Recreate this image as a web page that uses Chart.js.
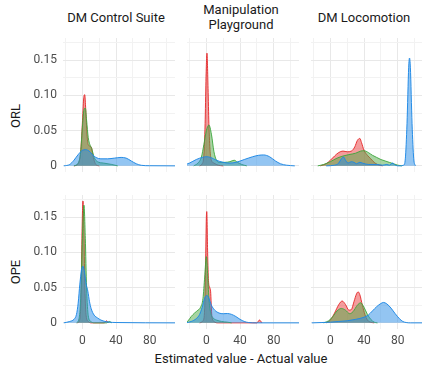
<!DOCTYPE html>
<html>
<head>
<meta charset="utf-8">
<script src="https://cdn.jsdelivr.net/npm/chart.js@4.4.1/dist/chart.umd.min.js"></script>
<style>
  body { margin: 0; background: #fff; font-family: Roboto, sans-serif; }
  #wrap { position: relative; width: 422px; height: 366px; overflow: hidden; }
  canvas { position: absolute; }
  .lbl { position: absolute; color: #1a1a1a; font-size: 13px; line-height: 15px; text-align: center; white-space: nowrap; transform: translate(-50%, -50%); }
  .rot { transform: translate(-50%, -50%) rotate(-90deg); }
</style>
</head>
<body>
<div id="wrap">
  <div class="lbl" style="left:116px;top:17px">DM Control Suite</div>
  <div class="lbl" style="left:241px;top:17px">Manipulation<br>Playground</div>
  <div class="lbl" style="left:364px;top:17px">DM Locomotion</div>
  <div class="lbl rot" style="left:15px;top:116px">ORL</div>
  <div class="lbl rot" style="left:15px;top:272px">OPE</div>
  <div class="lbl" style="left:241px;top:358px">Estimated value - Actual value</div>
</div>
<script>
// shared axes
const xGrid = [-20, 0, 20, 40, 60, 80, 100];
const xLabeled = [0, 40, 80];
const yGrid = [0, 0.025, 0.05, 0.075, 0.1, 0.125, 0.15, 0.175];
const yTickLabels = ['0', '0.05', '0.10', '0.15'];
const seriesNames = ['red', 'green', 'blue'];

// density curves, [x, density]
// ORL / DM Control Suite
const orlDmcRed = [[-10,0],[-5,0.003],[-2,0.02],[0,0.06],[1.5,0.095],[2.8,0.101],[4,0.08],[5.5,0.045],[7,0.03],[9,0.028],[11,0.025],[13,0.012],[16,0.002],[20,0]];
const orlDmcGreen = [[-10,0],[-5,0.004],[-2,0.02],[0,0.055],[2,0.08],[3.5,0.082],[5,0.065],[7,0.04],[9,0.03],[11,0.025],[14,0.012],[18,0.006],[25,0.004],[35,0.002],[42,0]];
const orlDmcBlue = [[-22,0],[-15,0.002],[-10,0.008],[-5,0.016],[0,0.022],[4,0.023],[8,0.021],[12,0.016],[16,0.012],[22,0.01],[30,0.01],[38,0.011],[46,0.012],[52,0.011],[58,0.007],[64,0.003],[70,0.0008],[80,0.0002],[110,0]];
// ORL / Manipulation Playground
const orlMpRed = [[-8,0],[-5,0.003],[-3,0.015],[-1.5,0.06],[-0.5,0.12],[0.7,0.16],[2,0.11],[3,0.06],[4.5,0.02],[6,0.008],[9,0.004],[14,0.001],[20,0]];
const orlMpGreen = [[-15,0],[-10,0.004],[-6,0.012],[-3,0.03],[0,0.05],[3,0.058],[6,0.045],[9,0.02],[12,0.008],[16,0.005],[22,0.005],[28,0.006],[33,0.008],[37,0.005],[42,0.002],[48,0]];
const orlMpBlue = [[-25,0.002],[-20,0.004],[-12,0.009],[-5,0.012],[0,0.013],[5,0.012],[12,0.008],[20,0.005],[28,0.004],[35,0.005],[45,0.009],[55,0.013],[62,0.015],[68,0.0155],[75,0.013],[82,0.007],[88,0.003],[95,0.001],[105,0]];
// ORL / DM Locomotion
const orlDmlRed = [[-12,0],[-5,0.003],[0,0.008],[5,0.014],[10,0.019],[15,0.021],[20,0.02],[25,0.021],[29,0.027],[32,0.036],[35,0.039],[37,0.033],[40,0.022],[44,0.015],[48,0.01],[52,0.005],[56,0.002],[62,0]];
const orlDmlGreen = [[-15,0],[-8,0.002],[0,0.006],[8,0.011],[15,0.014],[22,0.016],[30,0.018],[36,0.021],[40,0.0215],[45,0.019],[50,0.015],[55,0.012],[60,0.009],[65,0.007],[70,0.005],[75,0.003],[80,0.001],[85,0]];
const orlDmlBlue = [[-5,0],[5,0.001],[10,0.004],[13,0.01],[15.8,0.0125],[18,0.008],[21,0.004],[25,0.006],[28,0.005],[31,0.003],[35,0.005],[38,0.004],[45,0.002],[55,0.002],[62,0.001],[67,0.002],[70,0.001],[74,0.004],[77,0.001],[82,0],[87,0.001],[89,0.01],[91,0.06],[93,0.14],[94,0.153],[95,0.14],[97,0.06],[99,0.01],[101,0]];
// OPE / DM Control Suite
const opeDmcRed = [[-6,0],[-3,0.005],[-1.5,0.04],[-0.5,0.12],[0.7,0.173],[2,0.12],[3,0.05],[4.5,0.01],[7,0.002],[10,0],[26,0],[28.5,0.003],[31,0]];
const opeDmcGreen = [[-7,0],[-4,0.006],[-2,0.035],[0,0.12],[1.9,0.167],[3.5,0.12],[5,0.05],[7,0.01],[10,0.002],[14,0],[29,0],[32,0.002],[35,0]];
const opeDmcBlue = [[-22,0],[-15,0.002],[-10,0.005],[-7,0.012],[-5,0.028],[-3,0.055],[-1,0.075],[0.7,0.0805],[2.5,0.072],[4.5,0.055],[6.5,0.045],[8.5,0.03],[10.5,0.02],[14,0.011],[18,0.007],[22,0.004],[27,0.002],[32,0.001],[40,0.0005],[110,0]];
// OPE / Manipulation Playground
const opeMpRed = [[-8,0],[-4,0.003],[-2,0.02],[-1,0.08],[0,0.15],[0.5,0.158],[1.5,0.1],[2.5,0.06],[4,0.05],[5,0.045],[6.5,0.01],[9,0.002],[14,0],[60,0],[63,0.004],[66,0]];
const opeMpGreen = [[-24,0],[-21,0.004],[-18,0.009],[-14,0.014],[-10,0.018],[-7,0.022],[-4,0.035],[-2,0.065],[0,0.094],[1.5,0.07],[3,0.035],[5,0.015],[8,0.007],[12,0.004],[18,0.002],[25,0.001],[30,0]];
const opeMpBlue = [[-24,0],[-18,0.002],[-12,0.006],[-8,0.012],[-5,0.022],[-2,0.035],[0.8,0.039],[3,0.035],[6,0.025],[10,0.018],[15,0.014],[20,0.013],[25,0.0133],[30,0.012],[35,0.009],[40,0.005],[45,0.002],[50,0.0005],[60,0],[110,0]];
// OPE / DM Locomotion
const opeDmlRed = [[-5,0],[0,0.004],[5,0.014],[10,0.026],[14,0.031],[18,0.026],[22,0.018],[25,0.019],[28,0.03],[31,0.041],[33,0.044],[35,0.04],[38,0.025],[41,0.012],[44,0.004],[48,0.001],[52,0]];
const opeDmlGreen = [[-8,0],[-2,0.003],[3,0.009],[8,0.017],[13,0.0205],[18,0.018],[23,0.013],[27,0.016],[32,0.025],[36,0.0285],[40,0.022],[44,0.012],[48,0.005],[52,0.001],[56,0]];
const opeDmlBlue = [[-22,0],[-10,0.0005],[0,0.001],[10,0.002],[20,0.003],[30,0.005],[40,0.008],[45,0.011],[50,0.017],[55,0.023],[60,0.0275],[63,0.029],[67,0.027],[72,0.021],[77,0.013],[82,0.006],[86,0.002],[90,0.0005],[95,0],[110,0]];

const panels = [
    [[orlDmcRed, orlDmcGreen, orlDmcBlue], [orlMpRed, orlMpGreen, orlMpBlue], [orlDmlRed, orlDmlGreen, orlDmlBlue]],
    [[opeDmcRed, opeDmcGreen, opeDmcBlue], [opeMpRed, opeMpGreen, opeMpBlue], [opeDmlRed, opeDmlGreen, opeDmlBlue]]
];

const colors = {
    red:   { line: 'rgba(228, 38, 40, 0.9)',  fill: 'rgba(233, 60, 60, 0.5)' },
    green: { line: 'rgba(60, 165, 60, 0.9)',  fill: 'rgba(80, 170, 70, 0.5)' },
    blue:  { line: 'rgba(30, 136, 229, 0.95)', fill: 'rgba(40, 140, 230, 0.5)' }
};

// panel geometry
const colLefts = [63, 187, 311];
const rowTops = [38, 195];
const plotW = 112;
const plotH = 134;
const xAxisH = 22;

const wrap = document.getElementById('wrap');

function gridColor(isMajor) {
    return isMajor ? '#e8e8e8' : '#f2f2f2';
}

panels.forEach((row, r) => {
    row.forEach((series, c) => {
        const padL = c === 0 ? colLefts[0] : 0;
        const padB = r === 1 ? xAxisH : 0;
        const canvas = document.createElement('canvas');
        canvas.width = plotW + padL;
        canvas.height = plotH + padB;
        canvas.style.left = (colLefts[c] - padL) + 'px';
        canvas.style.top = rowTops[r] + 'px';
        wrap.appendChild(canvas);

        const datasets = series.map((pts, i) => {
            const col = colors[seriesNames[i]];
            return {
                label: seriesNames[i],
                data: pts.map(p => ({ x: p[0], y: p[1] })),
                borderColor: col.line,
                backgroundColor: col.fill,
                borderWidth: 1,
                fill: 'origin',
                pointRadius: 0,
                cubicInterpolationMode: 'monotone',
                order: 3 - i
            };
        });

        new Chart(canvas.getContext('2d'), {
            type: 'line',
            data: { datasets },
            options: {
                responsive: false,
                animation: false,
                layout: { padding: 0 },
                plugins: { legend: { display: false }, tooltip: { enabled: false } },
                scales: {
                    x: {
                        type: 'linear',
                        min: -23,
                        max: 110,
                        afterBuildTicks: s => { s.ticks = xGrid.map(v => ({ value: v })); },
                        afterFit: s => { s.height = padB; s.paddingLeft = s.paddingRight = s.paddingTop = s.paddingBottom = 0; },
                        border: { display: false },
                        grid: {
                            drawTicks: false,
                            color: ctx => gridColor(xLabeled.includes(ctx.tick && ctx.tick.value))
                        },
                        ticks: {
                            display: r === 1,
                            autoSkip: false,
                            maxRotation: 0,
                            padding: 5,
                            color: '#4d4d4d',
                            font: { family: 'Roboto', size: 12 },
                            callback: v => xLabeled.includes(v) ? String(v) : ''
                        }
                    },
                    y: {
                        min: -0.0087,
                        max: 0.1815,
                        afterBuildTicks: s => { s.ticks = yGrid.map(v => ({ value: v })); },
                        afterFit: s => { s.width = padL; s.paddingLeft = s.paddingRight = s.paddingTop = s.paddingBottom = 0; },
                        border: { display: false },
                        grid: {
                            drawTicks: false,
                            color: ctx => gridColor(ctx.index % 2 === 0)
                        },
                        ticks: {
                            display: c === 0,
                            autoSkip: false,
                            padding: 6,
                            color: '#4d4d4d',
                            font: { family: 'Roboto', size: 12 },
                            callback: (v, i) => i % 2 === 0 ? yTickLabels[i / 2] : ''
                        }
                    }
                }
            }
        });
    });
});
</script>
</body>
</html>
